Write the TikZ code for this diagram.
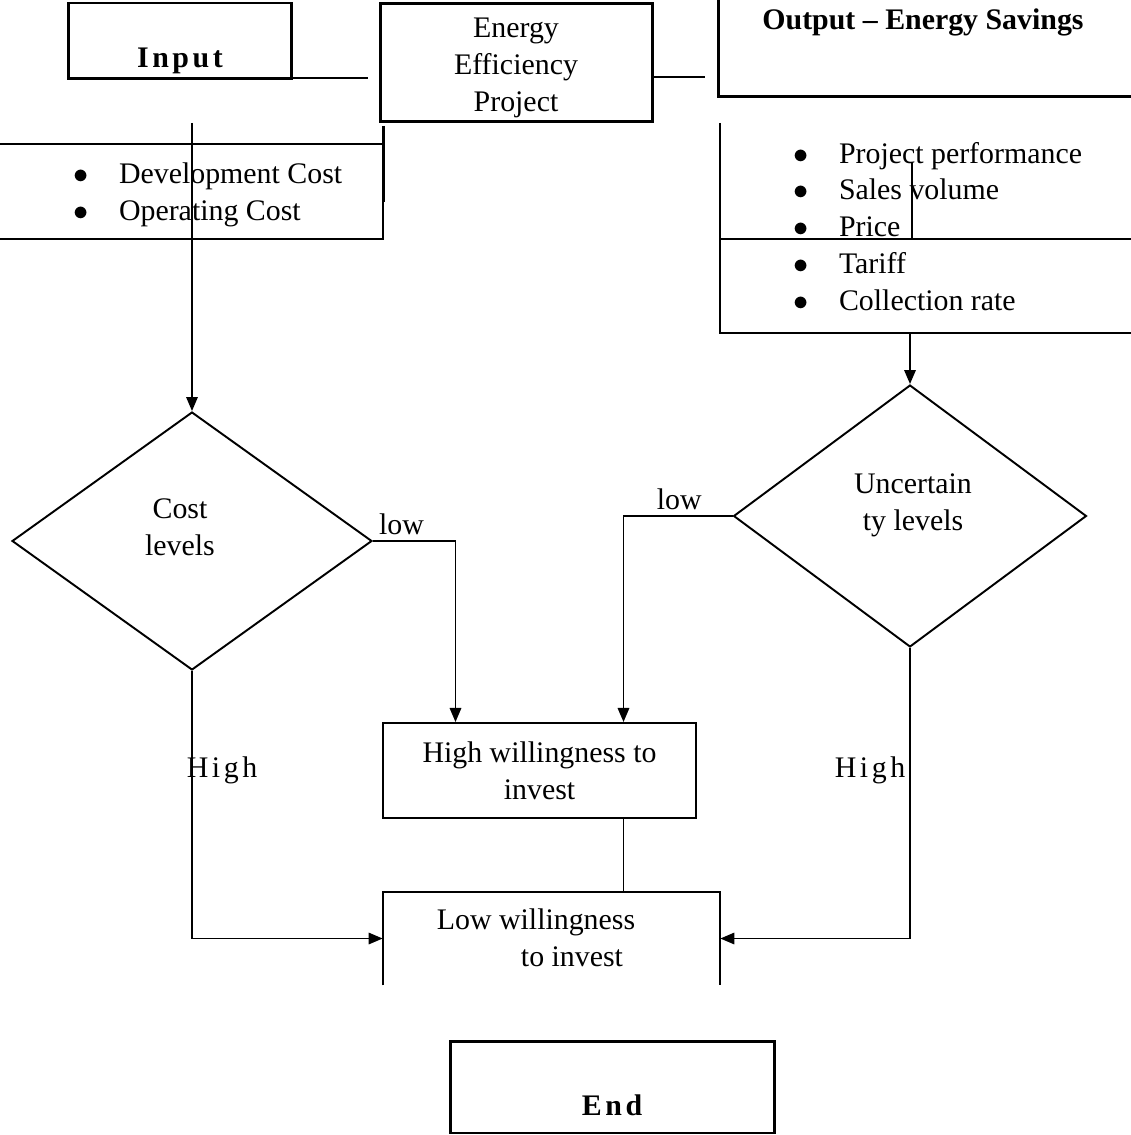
\documentclass[tikz,border=0pt]{standalone}
\usepackage{fontspec}
\setmainfont{Liberation Serif}
\newfontfamily\spacedfont[LetterSpace=12]{Liberation Serif}
\usetikzlibrary{positioning,arrows.meta,shapes.geometric,calc}
\newcommand{\blt}{\makebox[26pt][l]{$\bullet$}}

\begin{document}
\begin{tikzpicture}[x=0.02cm, y=-0.02cm,
  font=\fontsize{17}{21}\selectfont,
  heavybox/.style={draw, line width=1.7pt, inner sep=0pt},
  plainbox/.style={draw, line width=1.1pt, inner sep=0pt},
  decision/.style={draw, diamond, line width=1.1pt, inner sep=0pt},
  link/.style={line width=1.1pt},
  arrowlink/.style={line width=1.1pt, -{Triangle[length=8pt,width=6.5pt]}},
  txt/.style={align=center, inner sep=0pt}]
  \useasboundingbox (0,0) rectangle (1131,1135);
  \clip (0,0) rectangle (1131,1135);

  % top row
  \node[heavybox, minimum width=4.48cm, minimum height=1.52cm] (input) at (180,41) {};
  \node[txt, font=\fontsize{17}{21}\spacedfont\bfseries] (inputtxt) at (180,61) {Input};
  \node[heavybox, minimum width=5.46cm, minimum height=2.38cm] (eep) at (516.5,62.5) {};
  \node[txt] (eeptxt) at (516,68) {Energy\\Efficiency\\Project};
  \node[heavybox, minimum width=8.44cm, minimum height=2.14cm] (output) at (929,43.5) {};
  \node[txt, font=\fontsize{17}{21}\selectfont\bfseries] (outputtxt) at (923,22)
       {Output -- Energy Savings};
  \coordinate (inend) at (368,78);
  \coordinate (eepend) at (705,77);
  \draw[link] (inend -| input.east) -- (inend);
  \draw[link] (eep.east |- eepend) -- (eepend);

  % cost list
  \node[plainbox, minimum width=7.86cm, minimum height=1.9cm] (costlist) at (186.5,191.5) {};
  \draw[line width=1.7pt] (costlist.east |- 0,126) -- (costlist.east |- 0,202);
  \node[anchor=west, align=left, inner sep=0pt] (costitems) at (73,195)
       {\blt Development Cost\\ \blt Operating Cost};

  % risk list
  \draw[link] (720,123) -- (720,333) -- (1140,333);
  \draw[link] (720,239) -- (1140,239);
  \draw[link] (912,162) -- (912,239);
  \node[anchor=west, align=left, inner sep=0pt] (riskitems) at (793,226.5)
       {\blt Project performance\\ \blt Sales volume\\ \blt Price\\ \blt Tariff\\ \blt Collection rate};

  % decisions
  \node[decision, minimum width=7.2cm, minimum height=5.16cm] (cost) at (192,541) {};
  \node[txt] (costtxt) at (180,527) {Cost\\levels};
  \node[decision, minimum width=7.06cm, minimum height=5.24cm] (unc) at (910,516) {};
  \node[txt] (unctxt) at (913,505) {Uncertain\\ty levels};

  % outcomes
  \node[plainbox, minimum width=6.26cm, minimum height=1.9cm, txt] (high) at (539.5,770.5)
       {High willingness to\\invest};
  \node[minimum width=6.74cm, minimum height=1.86cm, inner sep=0pt] (lowbox) at (551.5,938.5) {};
  \draw[link] (lowbox.south west) |- (lowbox.north east) -- (lowbox.south east);
  \node[txt] (lowtxt1) at (536,922) {Low willingness};
  \node[txt] (lowtxt2) at (572,957) {to invest};
  \node[heavybox, minimum width=6.5cm, minimum height=1.84cm] (end) at (612.5,1087) {};
  \node[txt, font=\fontsize{17}{21}\spacedfont\bfseries] (endtxt) at (612,1105) {End};

  % connectors
  \coordinate (instem) at (192,123);
  \coordinate (riskstem) at (910,333);
  \draw[arrowlink] (instem) -- (cost.north);
  \draw[arrowlink] (riskstem) -- (unc.north);
  \coordinate (hleft) at ($(high.north)+(-84,0)$);
  \coordinate (hright) at ($(high.north)+(84,0)$);
  \draw[arrowlink] (cost.east) -| (hleft)
       node[pos=0, anchor=south west, inner sep=3pt] (lowa) {low};
  \draw[arrowlink] (unc.west) -| (hright)
       node[pos=0, anchor=south east, inner sep=3pt, xshift=-14pt] (lowb) {low};
  \coordinate (hdown) at ($(high.south)+(84,0)$);
  \draw[link] (hdown) -- (hdown |- lowbox.north);
  \draw[arrowlink] (cost.south) |- (lowbox.west);
  \draw[arrowlink] (unc.south) |- (lowbox.east);
  \node[txt, font=\fontsize{17}{21}\spacedfont] (higha) at (222,770) {High};
  \node[txt, font=\fontsize{17}{21}\spacedfont] (highb) at (870,770) {High};
\end{tikzpicture}
\end{document}
